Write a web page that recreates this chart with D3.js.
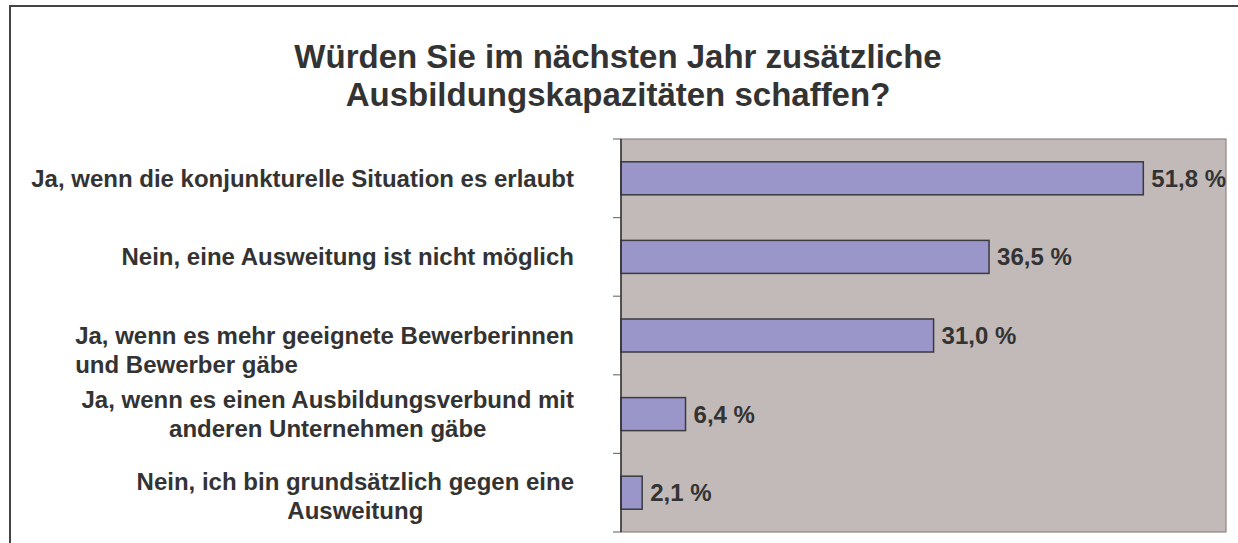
<!DOCTYPE html>
<html lang="de">
  <head>
    <meta charset="UTF-8" />
    <title>Ausbildungskapazitäten</title>
    <style type="text/css">
      body {
        margin: 0;
        background: #ffffff;
      }
      text {
        font-family: "Liberation Sans", Arial, sans-serif;
        font-weight: bold;
        fill: #333333;
      }
    </style>
  </head>
  <body>
    <div id="chart"></div>
    <script src="https://d3js.org/d3.v7.min.js"></script>
    <script>
      // data
      var categories = [
        "konjunktur",
        "nichtMoeglich",
        "bewerber",
        "verbund",
        "dagegen"
      ];
      var labelLines = [
        ["Ja, wenn die konjunkturelle Situation es erlaubt"],
        ["Nein, eine Ausweitung ist nicht möglich"],
        ["Ja, wenn es mehr geeignete Bewerberinnen", "und Bewerber gäbe"],
        ["Ja, wenn es einen Ausbildungsverbund mit", "anderen Unternehmen gäbe"],
        ["Nein, ich bin grundsätzlich gegen eine", "Ausweitung"]
      ];
      var values = [51.8, 36.5, 31.0, 6.4, 2.1];
      var titleLines = [
        "Würden Sie im nächsten Jahr zusätzliche",
        "Ausbildungskapazitäten schaffen?"
      ];

      // layout of the label blocks (alignment, shift in lines)
      var labelAlign = ["right", "right", "left", "center", "center"];
      var labelShift = [0, 0, 0.5, 0, 0.1];

      var W = 1238,
        H = 543;
      var plot = { left: 621, right: 1226, top: 139, bottom: 532 };
      var labelRight = 574,
        lineH = 29;

      var svg = d3
        .select("#chart")
        .append("svg")
        .attr("width", W)
        .attr("height", H);

      // outer frame
      svg
        .append("rect")
        .attr("x", 10)
        .attr("y", 6)
        .attr("width", W + 20)
        .attr("height", H + 20)
        .attr("fill", "#ffffff")
        .attr("stroke", "#444444")
        .attr("stroke-width", 2);

      // title
      svg
        .append("text")
        .attr("text-anchor", "middle")
        .attr("font-size", "33px")
        .selectAll("tspan")
        .data(titleLines)
        .enter()
        .append("tspan")
        .attr("x", 618)
        .attr("y", function (d, i) {
          return 68 + i * 38;
        })
        .text(function (d) {
          return d;
        });

      var x = d3.scaleLinear().domain([0, 60]).range([plot.left, plot.right]);
      var y = d3
        .scaleBand()
        .domain(categories)
        .range([plot.top, plot.bottom])
        .paddingInner(0.58)
        .paddingOuter(0.29);

      // plot area
      svg
        .append("rect")
        .attr("x", plot.left)
        .attr("y", plot.top)
        .attr("width", plot.right - plot.left)
        .attr("height", plot.bottom - plot.top)
        .attr("fill", "#c2bab8")
        .attr("stroke", "#8d8583")
        .attr("stroke-width", 1.2);

      // ticks at the band borders
      var gap = (y.step() - y.bandwidth()) / 2;
      var borders = categories.map(function (c) {
        return y(c) - gap;
      });
      borders.push(y(categories[categories.length - 1]) + y.bandwidth() + gap);
      svg
        .selectAll(".tick")
        .data(borders)
        .enter()
        .append("line")
        .attr("class", "tick")
        .attr("x1", plot.left - 8)
        .attr("x2", plot.left)
        .attr("y1", function (d) {
          return d;
        })
        .attr("y2", function (d) {
          return d;
        })
        .attr("stroke", "#777777")
        .attr("stroke-width", 1.2);

      // bars
      svg
        .selectAll(".bar")
        .data(values)
        .enter()
        .append("rect")
        .attr("class", "bar")
        .attr("x", x(0))
        .attr("y", function (d, i) {
          return y(categories[i]);
        })
        .attr("width", function (d) {
          return x(d) - x(0);
        })
        .attr("height", y.bandwidth())
        .attr("fill", "#9b96c9")
        .attr("stroke", "#3a3a3f")
        .attr("stroke-width", 1.5);

      // value axis line (left)
      svg
        .append("line")
        .attr("x1", plot.left)
        .attr("x2", plot.left)
        .attr("y1", plot.top)
        .attr("y2", plot.bottom)
        .attr("stroke", "#333333")
        .attr("stroke-width", 1.5);

      // value labels
      svg
        .selectAll(".val")
        .data(values)
        .enter()
        .append("text")
        .attr("class", "val")
        .attr("font-size", "24px")
        .attr("x", function (d) {
          return x(d) + 8;
        })
        .attr("y", function (d, i) {
          return y(categories[i]) + y.bandwidth() / 2 + 8.5;
        })
        .text(function (d) {
          return d3.format(".1f")(d).replace(".", ",") + " %";
        });

      // category labels
      labelLines.forEach(function (lines, i) {
        var g = svg.append("text").attr("font-size", "24px");
        var mid =
          y(categories[i]) +
          y.bandwidth() / 2 +
          8.5 -
          ((lines.length - 1) / 2 - labelShift[i]) * lineH;
        var spans = g
          .selectAll("tspan")
          .data(lines)
          .enter()
          .append("tspan")
          .attr("y", function (d, j) {
            return mid + j * lineH;
          })
          .text(function (d) {
            return d;
          });
        var blockW = 0;
        spans.each(function () {
          blockW = Math.max(blockW, this.getComputedTextLength());
        });
        if (labelAlign[i] === "right") {
          spans.attr("x", labelRight).attr("text-anchor", "end");
        } else if (labelAlign[i] === "left") {
          spans.attr("x", labelRight - blockW).attr("text-anchor", "start");
        } else {
          spans
            .attr("x", labelRight - blockW / 2)
            .attr("text-anchor", "middle");
        }
      });
    </script>
  </body>
</html>
